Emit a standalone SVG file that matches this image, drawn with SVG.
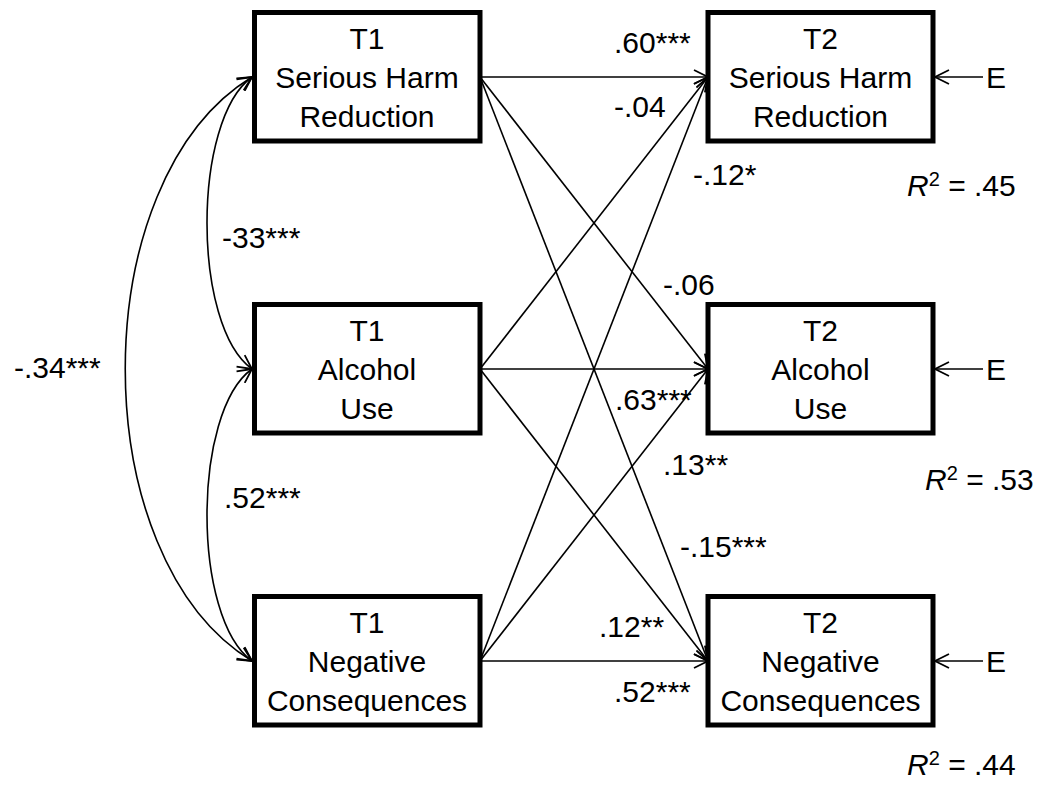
<svg xmlns="http://www.w3.org/2000/svg" width="1045" height="791" viewBox="0 0 1045 791">
<style>
text{font-family:"Liberation Sans",Arial,sans-serif;font-size:30px;fill:#000}
.box{fill:#fff;stroke:#000;stroke-width:5}
.bt{text-anchor:middle}
.ln{fill:none;stroke:#000;stroke-width:1.6}
.sup{font-size:20px}
</style>
<defs>
<marker id="ah" viewBox="0 0 16 16" refX="15" refY="8" markerWidth="16" markerHeight="16" markerUnits="userSpaceOnUse" orient="auto-start-reverse">
<path d="M1,1 L15,8 L1,15" fill="none" stroke="#000" stroke-width="1.8"/>
</marker>
</defs>
<g id="connectors">
<line class="ln" x1="480" y1="77" x2="708" y2="77" marker-end="url(#ah)"/>
<line class="ln" x1="480" y1="77" x2="708" y2="369" marker-end="url(#ah)"/>
<line class="ln" x1="480" y1="77" x2="708" y2="661" marker-end="url(#ah)"/>
<line class="ln" x1="480" y1="369" x2="708" y2="77" marker-end="url(#ah)"/>
<line class="ln" x1="480" y1="369" x2="708" y2="369" marker-end="url(#ah)"/>
<line class="ln" x1="480" y1="369" x2="708" y2="661" marker-end="url(#ah)"/>
<line class="ln" x1="480" y1="661" x2="708" y2="77" marker-end="url(#ah)"/>
<line class="ln" x1="480" y1="661" x2="708" y2="369" marker-end="url(#ah)"/>
<line class="ln" x1="480" y1="661" x2="708" y2="661" marker-end="url(#ah)"/>
<line class="ln" x1="983" y1="77" x2="935" y2="77" marker-end="url(#ah)"/>
<line class="ln" x1="983" y1="369" x2="935" y2="369" marker-end="url(#ah)"/>
<line class="ln" x1="983" y1="661" x2="935" y2="661" marker-end="url(#ah)"/>
<path class="ln" d="M252,77 C192,120 192,326 252,369" marker-start="url(#ah)" marker-end="url(#ah)"/>
<path class="ln" d="M252,369 C192,412 192,618 252,661" marker-start="url(#ah)" marker-end="url(#ah)"/>
<path class="ln" d="M252,77 C83,180 83,558 252,661" marker-start="url(#ah)" marker-end="url(#ah)"/>
</g>
<g id="t1_shr">
<rect class="box" x="254.5" y="12.5" width="225.5" height="128.5"/>
<text class="bt" x="367" y="49">T1</text>
<text class="bt" x="367" y="88">Serious Harm</text>
<text class="bt" x="367" y="127">Reduction</text>
</g>
<g id="t1_alc">
<rect class="box" x="254.5" y="304.5" width="225.5" height="128.5"/>
<text class="bt" x="367" y="341">T1</text>
<text class="bt" x="367" y="380">Alcohol</text>
<text class="bt" x="367" y="419">Use</text>
</g>
<g id="t1_neg">
<rect class="box" x="254.5" y="596.5" width="225.5" height="128.5"/>
<text class="bt" x="367" y="633">T1</text>
<text class="bt" x="367" y="672">Negative</text>
<text class="bt" x="367" y="711">Consequences</text>
</g>
<g id="t2_shr">
<rect class="box" x="708" y="12.5" width="225" height="128.5"/>
<text class="bt" x="820.5" y="49">T2</text>
<text class="bt" x="820.5" y="88">Serious Harm</text>
<text class="bt" x="820.5" y="127">Reduction</text>
</g>
<g id="t2_alc">
<rect class="box" x="708" y="304.5" width="225" height="128.5"/>
<text class="bt" x="820.5" y="341">T2</text>
<text class="bt" x="820.5" y="380">Alcohol</text>
<text class="bt" x="820.5" y="419">Use</text>
</g>
<g id="t2_neg">
<rect class="box" x="708" y="596.5" width="225" height="128.5"/>
<text class="bt" x="820.5" y="633">T2</text>
<text class="bt" x="820.5" y="672">Negative</text>
<text class="bt" x="820.5" y="711">Consequences</text>
</g>
<g id="errors">
<text x="986" y="88">E</text>
<text x="986" y="380">E</text>
<text x="986" y="672">E</text>
</g>
<g id="labels">
<text x="614" y="53">.60***</text>
<text x="614" y="117">-.04</text>
<text x="693" y="185">-.12*</text>
<text x="663" y="295">-.06</text>
<text x="615" y="410">.63***</text>
<text x="663" y="475">.13**</text>
<text x="680" y="557">-.15***</text>
<text x="599" y="637">.12**</text>
<text x="614" y="702">.52***</text>
<text x="222" y="248">-33***</text>
<text x="14" y="378">-.34***</text>
<text x="224" y="508">.52***</text>
<text x="907" y="196"><tspan font-style="italic">R</tspan><tspan class="sup" dy="-10">2</tspan><tspan dy="10"> = .45</tspan></text>
<text x="925" y="490"><tspan font-style="italic">R</tspan><tspan class="sup" dy="-10">2</tspan><tspan dy="10"> = .53</tspan></text>
<text x="907" y="775"><tspan font-style="italic">R</tspan><tspan class="sup" dy="-10">2</tspan><tspan dy="10"> = .44</tspan></text>
</g>
</svg>
